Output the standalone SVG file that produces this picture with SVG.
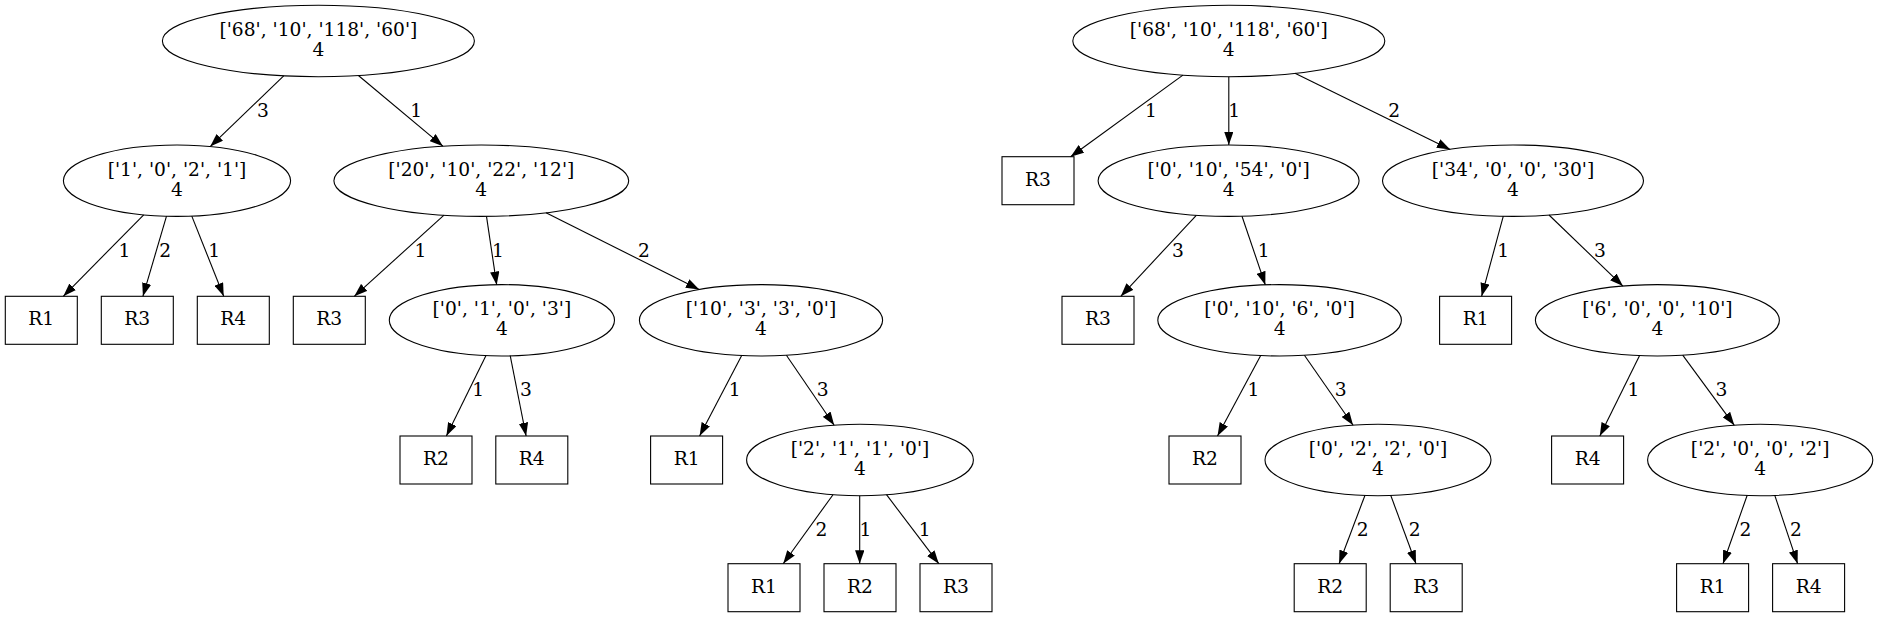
<svg xmlns="http://www.w3.org/2000/svg" width="1879" height="617" viewBox="0 0 1879 617">
<defs>
<style>
.n ellipse,.n rect{fill:none;stroke:#000;stroke-width:1.1}
text{font-family:"DejaVu Serif","Liberation Serif",serif;font-size:18.67px;text-anchor:middle;fill:#000}
.e line{stroke:#000;stroke-width:1.1;marker-end:url(#ah)}
</style>
<marker id="ah" markerUnits="userSpaceOnUse" viewBox="0 0 13.33 9.33" refX="13.33" refY="4.67" markerWidth="13.33" markerHeight="9.33" orient="auto">
<path d="M0,0 L13.33,4.67 L0,9.33 z" fill="#000"/>
</marker>
</defs>
<rect width="1879" height="617" fill="#fff"/>
<g id="edges" class="e">
<line x1="283.7" y1="75.8" x2="210.2" y2="146.6"/><text x="263" y="117">3</text>
<line x1="358.4" y1="75.5" x2="442.9" y2="146.2"/><text x="416.3" y="117">1</text>
<line x1="143.7" y1="214.8" x2="63.3" y2="296.3"/><text x="124.5" y="257">1</text>
<line x1="166.5" y1="216.2" x2="142.9" y2="296.3"/><text x="165.3" y="257">2</text>
<line x1="191.8" y1="216.1" x2="223.7" y2="296.3"/><text x="214.3" y="257">1</text>
<line x1="444" y1="215.2" x2="354.3" y2="296.3"/><text x="420.4" y="257">1</text>
<line x1="486.5" y1="216.3" x2="496.7" y2="284.9"/><text x="498" y="257">1</text>
<line x1="546" y1="212.8" x2="699.2" y2="289.5"/><text x="644" y="257">2</text>
<line x1="486" y1="355.6" x2="446.4" y2="436"/><text x="478.3" y="396">1</text>
<line x1="510.2" y1="355.6" x2="526.1" y2="436"/><text x="526" y="396">3</text>
<line x1="741.7" y1="355.5" x2="699.6" y2="436"/><text x="734.7" y="396">1</text>
<line x1="786.4" y1="355.2" x2="834.2" y2="425.2"/><text x="822.7" y="396">3</text>
<line x1="833" y1="494.7" x2="783.2" y2="563.7"/><text x="821.4" y="535.5">2</text>
<line x1="859.7" y1="495.7" x2="859.7" y2="563.7"/><text x="865.4" y="535.5">1</text>
<line x1="886.5" y1="494.7" x2="938.8" y2="563.7"/><text x="924.7" y="535.5">1</text>
<line x1="1182.9" y1="75.1" x2="1070.6" y2="156.7"/><text x="1151" y="117">1</text>
<line x1="1228.8" y1="76.7" x2="1228.8" y2="145"/><text x="1234.3" y="117">1</text>
<line x1="1295" y1="73.3" x2="1450.2" y2="149.4"/><text x="1394.3" y="117">2</text>
<line x1="1196.3" y1="215.3" x2="1120.8" y2="296.3"/><text x="1178" y="257">3</text>
<line x1="1242" y1="216.2" x2="1265.3" y2="284.9"/><text x="1263.7" y="257">1</text>
<line x1="1503.3" y1="216.2" x2="1481.6" y2="296.3"/><text x="1503.3" y="257">1</text>
<line x1="1549" y1="215" x2="1622.9" y2="286.1"/><text x="1600" y="257">3</text>
<line x1="1260.7" y1="355.6" x2="1217.5" y2="436"/><text x="1253.4" y="396">1</text>
<line x1="1304.4" y1="355.2" x2="1353.1" y2="425.2"/><text x="1340.8" y="396">3</text>
<line x1="1639.6" y1="355.6" x2="1599.8" y2="436"/><text x="1633.4" y="396">1</text>
<line x1="1682.7" y1="355.2" x2="1734.3" y2="425.3"/><text x="1721.4" y="396">3</text>
<line x1="1365" y1="495.2" x2="1339.1" y2="563.7"/><text x="1362.7" y="535.5">2</text>
<line x1="1390.7" y1="495.2" x2="1416" y2="563.7"/><text x="1414.8" y="535.5">2</text>
<line x1="1747.2" y1="495.2" x2="1723" y2="563.7"/><text x="1745.5" y="535.5">2</text>
<line x1="1774.7" y1="495.2" x2="1797.6" y2="563.7"/><text x="1796" y="535.5">2</text>
</g>
<g id="L0" class="n"><ellipse cx="318.4" cy="41" rx="156" ry="35.7"/><text x="318.4" y="36">['68', '10', '118', '60']</text><text x="318.4" y="56">4</text></g>
<g id="L1a" class="n"><ellipse cx="177" cy="180.7" rx="113.6" ry="35.7"/><text x="177" y="175.7">['1', '0', '2', '1']</text><text x="177" y="195.7">4</text></g>
<g id="L1b" class="n"><ellipse cx="481.3" cy="180.7" rx="147.4" ry="35.7"/><text x="481.3" y="175.7">['20', '10', '22', '12']</text><text x="481.3" y="195.7">4</text></g>
<g id="L2r1" class="n"><rect x="5.3" y="296.3" width="72" height="48"/><text x="41.3" y="325.4">R1</text></g>
<g id="L2r3" class="n"><rect x="101.3" y="296.3" width="72" height="48"/><text x="137.3" y="325.4">R3</text></g>
<g id="L2r4" class="n"><rect x="197.3" y="296.3" width="72" height="48"/><text x="233.3" y="325.4">R4</text></g>
<g id="L2r3b" class="n"><rect x="293.3" y="296.3" width="72" height="48"/><text x="329.3" y="325.4">R3</text></g>
<g id="L2a" class="n"><ellipse cx="501.9" cy="320.3" rx="112.6" ry="35.7"/><text x="501.9" y="315.3">['0', '1', '0', '3']</text><text x="501.9" y="335.3">4</text></g>
<g id="L2b" class="n"><ellipse cx="761" cy="320.3" rx="121.6" ry="35.7"/><text x="761" y="315.3">['10', '3', '3', '0']</text><text x="761" y="335.3">4</text></g>
<g id="L3r2" class="n"><rect x="400" y="436" width="72" height="48"/><text x="436" y="465.1">R2</text></g>
<g id="L3r4" class="n"><rect x="495.8" y="436" width="72" height="48"/><text x="531.8" y="465.1">R4</text></g>
<g id="L3r1" class="n"><rect x="650.6" y="436" width="72" height="48"/><text x="686.6" y="465.1">R1</text></g>
<g id="L3" class="n"><ellipse cx="860" cy="460" rx="113.4" ry="35.7"/><text x="860" y="455">['2', '1', '1', '0']</text><text x="860" y="475">4</text></g>
<g id="L4r1" class="n"><rect x="728" y="563.7" width="72" height="48"/><text x="764" y="592.8">R1</text></g>
<g id="L4r2" class="n"><rect x="824" y="563.7" width="72" height="48"/><text x="860" y="592.8">R2</text></g>
<g id="L4r3" class="n"><rect x="920" y="563.7" width="72" height="48"/><text x="956" y="592.8">R3</text></g>
<g id="R0" class="n"><ellipse cx="1228.8" cy="41" rx="156" ry="35.7"/><text x="1228.8" y="36">['68', '10', '118', '60']</text><text x="1228.8" y="56">4</text></g>
<g id="R1r3" class="n"><rect x="1002" y="156.7" width="72" height="48"/><text x="1038" y="185.8">R3</text></g>
<g id="RA" class="n"><ellipse cx="1228.6" cy="180.7" rx="130.5" ry="35.7"/><text x="1228.6" y="175.7">['0', '10', '54', '0']</text><text x="1228.6" y="195.7">4</text></g>
<g id="RB" class="n"><ellipse cx="1513" cy="180.7" rx="130.5" ry="35.7"/><text x="1513" y="175.7">['34', '0', '0', '30']</text><text x="1513" y="195.7">4</text></g>
<g id="R2r3" class="n"><rect x="1062" y="296.3" width="72" height="48"/><text x="1098" y="325.4">R3</text></g>
<g id="RC" class="n"><ellipse cx="1279.6" cy="320.3" rx="121.8" ry="35.7"/><text x="1279.6" y="315.3">['0', '10', '6', '0']</text><text x="1279.6" y="335.3">4</text></g>
<g id="R2r1" class="n"><rect x="1439.6" y="296.3" width="72" height="48"/><text x="1475.6" y="325.4">R1</text></g>
<g id="RD" class="n"><ellipse cx="1657.4" cy="320.3" rx="122" ry="35.7"/><text x="1657.4" y="315.3">['6', '0', '0', '10']</text><text x="1657.4" y="335.3">4</text></g>
<g id="R3r2" class="n"><rect x="1169" y="436" width="72" height="48"/><text x="1205" y="465.1">R2</text></g>
<g id="RE" class="n"><ellipse cx="1378" cy="460" rx="113" ry="35.7"/><text x="1378" y="455">['0', '2', '2', '0']</text><text x="1378" y="475">4</text></g>
<g id="R3r4" class="n"><rect x="1551.6" y="436" width="72" height="48"/><text x="1587.6" y="465.1">R4</text></g>
<g id="RF" class="n"><ellipse cx="1760.2" cy="460" rx="112.6" ry="35.7"/><text x="1760.2" y="455">['2', '0', '0', '2']</text><text x="1760.2" y="475">4</text></g>
<g id="R4r2" class="n"><rect x="1294.2" y="563.7" width="72" height="48"/><text x="1330.2" y="592.8">R2</text></g>
<g id="R4r3" class="n"><rect x="1390.2" y="563.7" width="72" height="48"/><text x="1426.2" y="592.8">R3</text></g>
<g id="R4r1" class="n"><rect x="1676.6" y="563.7" width="72" height="48"/><text x="1712.6" y="592.8">R1</text></g>
<g id="R4r4" class="n"><rect x="1772.6" y="563.7" width="72" height="48"/><text x="1808.6" y="592.8">R4</text></g>
</svg>
